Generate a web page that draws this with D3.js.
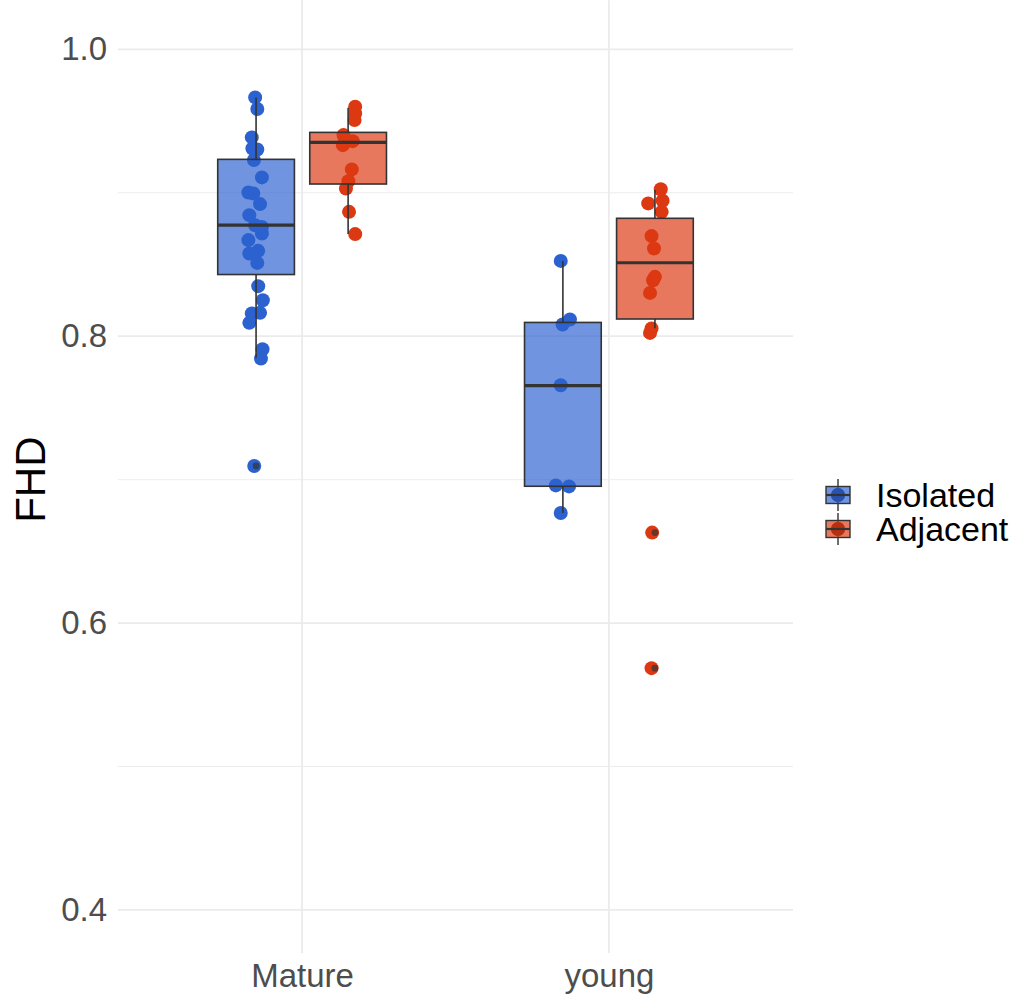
<!DOCTYPE html>
<html>
<head>
<meta charset="utf-8">
<script src="https://cdn.jsdelivr.net/npm/d3@7"></script>
<style>
  html, body { margin: 0; padding: 0; background: #ffffff; }
  svg { display: block; font-family: "Liberation Sans", Arial, sans-serif; }
</style>
</head>
<body>
<svg id="chart" width="1021" height="997"></svg>
<script>
// Categories
const ages = ["Mature", "young"];
const sites = ["Isolated", "Adjacent"];
const yTicks = [0.4, 0.6, 0.8, 1.0];
const yMinorTicks = [0.5, 0.7, 0.9];

// Individual plot values (FHD) and their horizontal jitter (in category units)
const matureIsolated = [0.9665, 0.9584, 0.9386, 0.9309, 0.9302, 0.9228, 0.9107, 0.9002, 0.8995, 0.8921,
  0.8844, 0.8774, 0.8762, 0.8716, 0.8670, 0.8595, 0.8577, 0.8511, 0.8349, 0.8251, 0.8163, 0.8158,
  0.8093, 0.7909, 0.7844, 0.7095];
const matureIsolatedJitter = [-0.003, 0.004, -0.014, -0.012, 0.004, -0.007, 0.019, -0.025, -0.009, 0.013,
  -0.022, -0.003, 0.019, 0.019, -0.025, 0.007, -0.022, 0.004, 0.007, 0.022, 0.013, -0.014,
  -0.022, 0.021, 0.016, -0.006];

const matureAdjacent = [0.9600, 0.9553, 0.9507, 0.9402, 0.9360, 0.9332, 0.9163, 0.9081, 0.9030, 0.8867, 0.8712];
const matureAdjacentJitter = [0.023, 0.023, 0.021, -0.015, 0.015, -0.017, 0.012, 0.001, -0.007, 0.003, 0.023];

const youngIsolated = [0.8525, 0.8117, 0.8082, 0.7658, 0.6960, 0.6953, 0.6767];
const youngIsolatedJitter = [-0.007, 0.023, -0.001, -0.007, -0.023, 0.020, -0.007];

const youngAdjacent = [0.9025, 0.8944, 0.8926, 0.8867, 0.8698, 0.8612, 0.8414, 0.8390, 0.8302,
  0.8054, 0.8023, 0.6631, 0.5686];
const youngAdjacentJitter = [0.019, 0.025, -0.022, 0.022, -0.011, -0.003, 0.000, -0.006, -0.016,
  -0.011, -0.016, -0.009, -0.011];

// Box summaries, ordered Mature/Isolated, Mature/Adjacent, young/Isolated, young/Adjacent
const boxAge = ["Mature", "Mature", "young", "young"];
const boxSite = ["Isolated", "Adjacent", "Isolated", "Adjacent"];
const whiskerLow = [0.7849, 0.8712, 0.6767, 0.8055];
const quartile1 = [0.8430, 0.9061, 0.6954, 0.8120];
const median = [0.8774, 0.9352, 0.7656, 0.8512];
const quartile3 = [0.9233, 0.9421, 0.8096, 0.8822];
const whiskerHigh = [0.9665, 0.9593, 0.8525, 0.9019];
const outliers = [[0.7095], [], [], [0.6631, 0.5686]];

// Styling
const pointColor = { Isolated: "#2c62d0", Adjacent: "#dc3812" };
const keyDotColor = { Isolated: "#2850a8", Adjacent: "#b02e0e" };
const lineColor = "#333333";
const gridColor = "#ebebeb";

const svg = d3.select("#chart");
const panel = { left: 118, right: 793, top: 6.3, bottom: 953 };

// Discrete x axis with ggplot-like expansion (0.6 units each side)
const x = d3.scaleLinear().domain([0.4, 2.6]).range([panel.left, panel.right]);
const ageIndex = a => ages.indexOf(a) + 1;
const dodge = { Isolated: -0.15, Adjacent: 0.15 };
const boxWidth = 0.25;

const y = d3.scaleLinear().domain([0.37, 1.03]).range([panel.bottom, panel.top]);

// Grid
const grid = svg.append("g");
grid.selectAll("line.minor").data(yMinorTicks).join("line")
  .attr("x1", panel.left).attr("x2", panel.right)
  .attr("y1", d => y(d)).attr("y2", d => y(d))
  .attr("stroke", gridColor).attr("stroke-width", 0.9);
grid.selectAll("line.major").data(yTicks).join("line")
  .attr("x1", panel.left).attr("x2", panel.right)
  .attr("y1", d => y(d)).attr("y2", d => y(d))
  .attr("stroke", gridColor).attr("stroke-width", 1.8);
grid.selectAll("line.vmajor").data(ages).join("line")
  .attr("x1", d => x(ageIndex(d))).attr("x2", d => x(ageIndex(d)))
  .attr("y1", panel.top - 6).attr("y2", panel.bottom)
  .attr("stroke", gridColor).attr("stroke-width", 1.8);

// Y axis labels
const yAxis = d3.axisLeft(y).tickValues(yTicks).tickFormat(d3.format(".1f")).tickSize(0).tickPadding(11);
const yg = svg.append("g").attr("transform", `translate(${panel.left},0)`).call(yAxis);
yg.select(".domain").remove();
yg.selectAll("text").attr("font-size", 33).attr("fill", "#4d4d4d")
  .attr("font-family", "Liberation Sans, Arial, sans-serif");

// X axis labels
const xAxis = d3.axisBottom(x).tickValues(ages.map(ageIndex)).tickFormat(i => ages[i - 1]).tickSize(0).tickPadding(11);
const xg = svg.append("g").attr("transform", `translate(0,${panel.bottom})`).call(xAxis);
xg.select(".domain").remove();
xg.selectAll("text").attr("font-size", 33).attr("fill", "#4d4d4d")
  .attr("font-family", "Liberation Sans, Arial, sans-serif");

// Y title
svg.append("text")
  .attr("transform", `translate(45,${(panel.top + panel.bottom) / 2}) rotate(-90)`)
  .attr("text-anchor", "middle")
  .attr("font-size", 42).attr("fill", "#000")
  .text("FHD");

// Jittered points (drawn beneath the boxes)
const pointGroups = [
  { age: "Mature", site: "Isolated", values: matureIsolated, jitter: matureIsolatedJitter },
  { age: "Mature", site: "Adjacent", values: matureAdjacent, jitter: matureAdjacentJitter },
  { age: "young", site: "Isolated", values: youngIsolated, jitter: youngIsolatedJitter },
  { age: "young", site: "Adjacent", values: youngAdjacent, jitter: youngAdjacentJitter }
];
const pts = svg.append("g");
pointGroups.forEach(g => {
  pts.selectAll(null).data(g.values.map((v, i) => ({ v, j: g.jitter[i] }))).join("circle")
    .attr("cx", d => x(ageIndex(g.age) + dodge[g.site] + d.j))
    .attr("cy", d => y(d.v))
    .attr("r", 7)
    .attr("fill", pointColor[g.site]);
});

// Boxplots
const boxes = svg.append("g");
boxAge.forEach((age, i) => {
  const site = boxSite[i];
  const cx = ageIndex(age) + dodge[site];
  const xl = x(cx - boxWidth / 2), xr = x(cx + boxWidth / 2), xc = x(cx);
  const b = boxes.append("g");
  b.append("line").attr("x1", xc).attr("x2", xc)
    .attr("y1", y(whiskerHigh[i])).attr("y2", y(quartile3[i]))
    .attr("stroke", lineColor).attr("stroke-width", 1.6);
  b.append("line").attr("x1", xc).attr("x2", xc)
    .attr("y1", y(quartile1[i])).attr("y2", y(whiskerLow[i]))
    .attr("stroke", lineColor).attr("stroke-width", 1.6);
  b.append("rect")
    .attr("x", xl).attr("y", y(quartile3[i]))
    .attr("width", xr - xl).attr("height", y(quartile1[i]) - y(quartile3[i]))
    .attr("fill", pointColor[site]).attr("fill-opacity", 0.68)
    .attr("stroke", lineColor).attr("stroke-width", 1.6);
  b.append("line").attr("x1", xl).attr("x2", xr)
    .attr("y1", y(median[i])).attr("y2", y(median[i]))
    .attr("stroke", lineColor).attr("stroke-width", 3.2);
  b.selectAll("circle").data(outliers[i]).join("circle")
    .attr("cx", xc).attr("cy", d => y(d)).attr("r", 3.4)
    .attr("fill", lineColor).attr("fill-opacity", 0.7);
});

// Legend
const legend = svg.append("g").attr("transform", "translate(838,495)");
sites.forEach((s, i) => {
  const g = legend.append("g").attr("transform", `translate(0,${i * 34})`);
  g.append("line").attr("x1", 0).attr("x2", 0).attr("y1", -16).attr("y2", 16)
    .attr("stroke", lineColor).attr("stroke-width", 1.4);
  g.append("circle").attr("r", 7).attr("fill", pointColor[s]);
  g.append("rect").attr("x", -12).attr("y", -8.5).attr("width", 24).attr("height", 17)
    .attr("fill", pointColor[s]).attr("fill-opacity", 0.68)
    .attr("stroke", lineColor).attr("stroke-width", 1.4);
  g.append("circle").attr("r", 7).attr("fill", keyDotColor[s]).attr("fill-opacity", 0.85);
  g.append("line").attr("x1", -12).attr("x2", 12).attr("y1", 0).attr("y2", 0)
    .attr("stroke", lineColor).attr("stroke-width", 2.2);
  g.append("text").attr("x", 38).attr("y", 12)
    .attr("font-size", 34).attr("fill", "#000").text(s);
});
</script>
</body>
</html>
